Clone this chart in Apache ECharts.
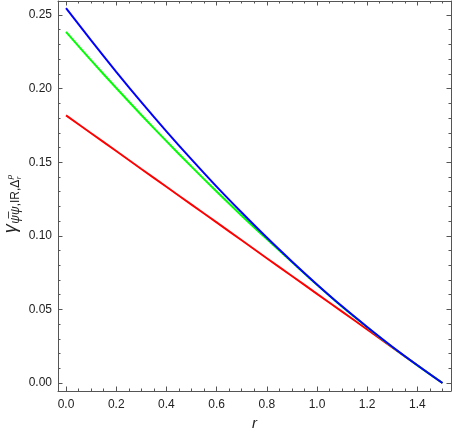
<!DOCTYPE html>
<html>
<head>
<meta charset="utf-8">
<script src="https://cdn.jsdelivr.net/npm/echarts@6/dist/echarts.min.js"></script>
<style>html,body{margin:0;padding:0;background:#fff}#c{width:452px;height:436px}</style>
</head>
<body>
<div id="c"></div>
<script>
const rValues = [0,0.1,0.2,0.3,0.4,0.5,0.6,0.7,0.8,0.9,1.0,1.1,1.2,1.3,1.4,1.5];
const redValues = [0.1818,0.1697,0.1576,0.1454,0.1333,0.1212,0.1091,0.0970,0.0848,0.0727,0.0606,0.0485,0.0364,0.0242,0.0121,0];
const greenValues = [0.2385,0.2192,0.2004,0.1821,0.1643,0.1470,0.1301,0.1137,0.0978,0.0822,0.0667,0.0518,0.0379,0.0245,0.0120,0];
const blueValues = [0.2547,0.2327,0.2114,0.1908,0.1710,0.1519,0.1334,0.1158,0.0988,0.0826,0.0670,0.0521,0.0381,0.0247,0.0121,0];
const xMajorTicks = [0,0.2,0.4,0.6,0.8,1.0,1.2,1.4];
const xMinorTicks = [0.05,0.1,0.15,0.25,0.3,0.35,0.45,0.5,0.55,0.65,0.7,0.75,0.85,0.9,0.95,1.05,1.1,1.15,1.25,1.3,1.35,1.45,1.5];
const yMajorTicks = [0,0.05,0.10,0.15,0.20,0.25];
const yMinorTicks = [0.01,0.02,0.03,0.04,0.06,0.07,0.08,0.09,0.11,0.12,0.13,0.14,0.16,0.17,0.18,0.19,0.21,0.22,0.23,0.24];
const xTitle = 'r';
const yTitleMain = 'γ';
const yTitleSub1 = 'ψ̅ψ';
const yTitleSub2 = ',IR,Δ';
const yTitleSup = 'p';
const yTitleSubSub = 'r';

const frameColor = '#555';
const textColor = '#222';
const FONT = 'Liberation Sans';
const XMIN = -0.032, XMAX = 1.534, YMIN = -0.0054, YMAX = 0.2595;

function mkAxis(pos, min, max, ticks, len, labels, line, dec) {
  return {
    type: 'value', position: pos, min: min, max: max,
    axisLine: {show: line, onZero: false, lineStyle: {color: frameColor, width: 1}},
    axisTick: {show: true, inside: true, length: len, customValues: ticks, lineStyle: {color: frameColor, width: 1}},
    axisLabel: labels ? {show: true, customValues: ticks, formatter: v => v.toFixed(dec), color: textColor, fontSize: 12, fontFamily: FONT, margin: pos === 'bottom' ? 8 : 6} : {show: false},
    splitLine: {show: false}
  };
}

const xAxes = [
  Object.assign(mkAxis('bottom', XMIN, XMAX, xMajorTicks, 4.5, true, true, 1), {
    name: xTitle, nameLocation: 'middle', nameGap: 25,
    nameTextStyle: {fontStyle: 'italic', fontSize: 15, color: textColor, fontFamily: FONT}
  }),
  mkAxis('bottom', XMIN, XMAX, xMinorTicks, 2.5, false, false),
  mkAxis('top', XMIN, XMAX, xMajorTicks, 4.5, false, true),
  mkAxis('top', XMIN, XMAX, xMinorTicks, 2.5, false, false)
];
const yAxes = [
  mkAxis('left', YMIN, YMAX, yMajorTicks, 4.5, true, true, 2),
  mkAxis('left', YMIN, YMAX, yMinorTicks, 2.5, false, false),
  mkAxis('right', YMIN, YMAX, yMajorTicks, 4.5, false, true),
  mkAxis('right', YMIN, YMAX, yMinorTicks, 2.5, false, false)
];

// rotated y-axis title built from pieces
const mctx = document.createElement('canvas').getContext('2d');
function tw(t, font) { mctx.font = font; return mctx.measureText(t).width; }
const fG = 'italic 18px "' + FONT + '"';
const fS1 = 'italic 12px "' + FONT + '"';
const fS2 = '12px "' + FONT + '"';
const fSS = 'italic 8px "' + FONT + '"';
const wG = tw(yTitleMain, fG), wS1 = tw(yTitleSub1, fS1), wS2 = tw(yTitleSub2, fS2), wSS = Math.max(tw(yTitleSup, fSS), tw(yTitleSubSub, fSS));
const total = wG + 0.5 + wS1 + wS2 + 0.5 + wSS;
let x0 = -total / 2;
function piece(t, x, y, size, italic) {
  return {type: 'text', x: x, y: y, style: {text: t, fill: textColor, fontSize: size, fontStyle: italic ? 'italic' : 'normal', fontFamily: FONT, align: 'left', verticalAlign: 'middle'}};
}
const titleChildren = [];
titleChildren.push(piece(yTitleMain, x0, 0, 18, true));
let xc = x0 + wG + 0.5;
titleChildren.push(piece(yTitleSub1, xc, 5, 12, true));
xc += wS1;
titleChildren.push(piece(yTitleSub2, xc, 5, 12, false));
xc += wS2 + 0.5;
titleChildren.push(piece(yTitleSup, xc, -1, 8, true));
titleChildren.push(piece(yTitleSubSub, xc, 8, 8, true));

function pairs(vals) { return rValues.map((r, i) => [r, vals[i]]); }
function line(name, color, vals) {
  return {name: name, type: 'line', xAxisIndex: 0, yAxisIndex: 0, data: pairs(vals),
    showSymbol: false, smooth: 0.3, lineStyle: {color: color, width: 2}, itemStyle: {color: color}, animation: false};
}

const chart = echarts.init(document.getElementById('c'), null, {renderer: 'canvas'});
chart.setOption({
  animation: false,
  grid: {left: 58, right: 1, top: 1, bottom: 43, containLabel: false},
  xAxis: xAxes,
  yAxis: yAxes,
  graphic: [{type: 'group', x: 11, y: 204, rotation: Math.PI / 2, children: titleChildren}],
  series: [
    line('red', '#ff0000', redValues),
    line('green', '#00ff00', greenValues),
    line('blue', '#0000ff', blueValues)
  ]
});
</script>
</body>
</html>
